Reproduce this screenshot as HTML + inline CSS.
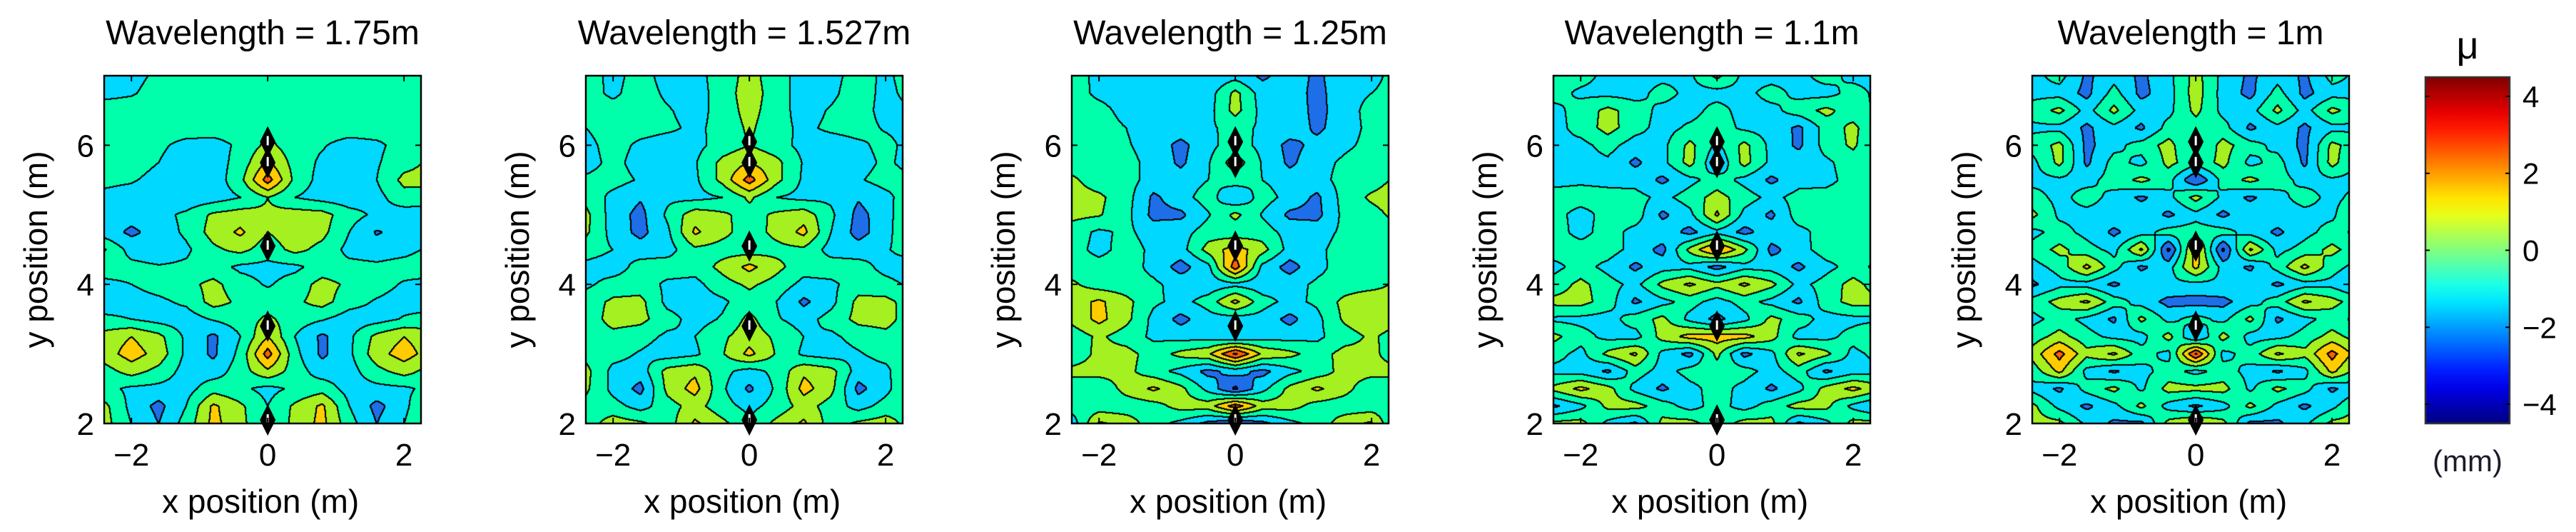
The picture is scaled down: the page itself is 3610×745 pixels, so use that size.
<!DOCTYPE html>
<html><head><meta charset="utf-8">
<style>
html,body{margin:0;padding:0;background:#fff;}
body{width:3610px;height:745px;position:relative;overflow:hidden;font-family:"Liberation Sans",Arial,sans-serif;}
canvas{position:absolute;}
svg{position:absolute;left:0;top:0;}
</style></head>
<body>
<svg id="svg" width="3610" height="745"></svg>
<script>
// ---- data ----
const xCoords=[-2.4,-2,-1.6,-1.2,-0.8,-0.4,0,0.4,0.8,1.2,1.6,2,2.4];
const yCoords=[7,6.75,6.5,6.25,6,5.75,5.5,5.25,5,4.75,4.5,4.25,4,3.75,3.5,3.25,3,2.75,2.5,2.25,2];
const titles=["Wavelength = 1.75m","Wavelength = 1.527m","Wavelength = 1.25m","Wavelength = 1.1m","Wavelength = 1m"];
const xTicks=[-2,0,2];
const yTicks=[2,4,6];
const cbTicks=[4,2,0,-2,-4];
const sourceY=[6.05,5.75,4.55,3.4,2.05];
const levels=[-4,-3,-2,-1,0,1,2,3,4];
const gridP1=[
[-1.2,-1.3,-0.8,-0.5,-0.5,-0.5,-0.5,-0.5,-0.5,-0.5,-0.5,-0.5,-0.5],
[-1.3,-1.1,-0.6,-0.5,-0.5,-0.5,-0.5,-0.5,-0.5,-0.5,-0.5,-0.5,-0.5],
[-0.5,-0.5,-0.5,-0.5,-0.5,-0.5,-0.5,-0.5,-0.5,-0.5,-0.5,-0.5,-0.5],
[-0.5,-0.5,-0.5,-0.5,-0.5,-0.5,-0.3,-0.5,-0.5,-0.5,-0.5,-0.5,-0.5],
[-0.5,-0.5,-0.8,-1.3,-1.4,-0.8,0.3,-0.6,-0.9,-1.4,-1.2,-0.6,-0.5],
[-0.5,-0.6,-1.0,-1.6,-1.5,-0.6,1.2,-0.4,-1.2,-1.6,-1.1,-0.4,0.2],
[-0.8,-0.9,-1.3,-1.7,-1.6,-0.3,2.5,-0.3,-1.4,-1.7,-1.0,0.3,0.4],
[-1.2,-1.4,-1.5,-1.7,-1.5,-1.0,0.0,-1.0,-1.4,-1.6,-1.3,-0.4,-0.6],
[-1.4,-1.6,-1.3,-0.8,0.2,0.5,0.2,0.5,0.4,-0.6,-1.2,-1.5,-1.4],
[-1.5,-2.2,-1.6,-0.8,0.4,1.2,0.0,0.6,0.3,-1.0,-2.1,-1.6,-1.3],
[0.1,-1.4,-1.7,-1.2,-0.2,0.3,-0.5,0.3,-0.3,-1.3,-1.5,-1.3,-0.8],
[-0.6,-0.7,-0.9,-0.8,-0.6,-1.2,-1.3,-1.2,-0.6,-0.7,-0.8,-0.6,-0.5],
[-1.2,-1.0,-0.6,-0.3,0.3,-0.6,-1.1,-0.6,0.4,-0.2,-0.6,-1.1,-1.3],
[-1.5,-1.4,-1.2,-0.8,0.4,-0.2,-0.5,-0.2,0.4,-0.6,-1.1,-1.4,-1.5],
[-0.8,-1.0,-1.4,-1.5,-0.9,-0.5,0.2,-0.5,-0.9,-1.5,-1.4,-0.9,-0.6],
[0.4,1.0,0.3,-1.2,-2.2,-1.0,1.0,-1.0,-2.2,-1.2,0.3,1.0,0.4],
[0.5,1.5,0.6,-1.2,-2.2,-0.7,2.5,-0.7,-2.2,-1.2,0.6,1.5,0.5],
[-0.4,0.4,-0.3,-1.4,-1.5,-0.5,0.8,-0.5,-1.5,-1.4,-0.3,0.4,-0.4],
[-0.7,-1.2,-1.3,-1.4,-0.4,-0.8,-1.3,-0.8,-0.4,-1.4,-1.3,-1.2,-0.7],
[0.3,-1.3,-2.3,-1.0,1.2,0.2,-1.0,0.2,1.2,-1.0,-2.3,-1.3,0.3],
[0.4,-1.0,-2.0,-0.6,1.3,0.3,-1.0,0.3,1.3,-0.6,-2.0,-1.0,0.4]];
const gridP2=[
[-0.5,-1.3,-0.6,-1.4,-1.3,-0.6,0.4,-0.6,-1.4,-1.3,-0.6,-1.2,-0.5],
[-0.6,-1.2,-0.5,-1.2,-1.5,-0.5,0.5,-0.5,-1.5,-1.2,-0.5,-1.3,-0.6],
[-0.5,-0.6,-0.5,-0.9,-1.4,-0.6,0.4,-0.6,-1.4,-0.9,-0.5,-1.4,-1.0],
[-1.0,-0.5,-0.6,-0.8,-1.2,-0.7,0.2,-0.7,-1.2,-0.8,-0.6,-1.1,-1.3],
[-1.3,-0.6,-1.2,-1.5,-1.3,-0.6,0.0,-0.6,-1.3,-1.5,-1.2,-0.7,-1.4],
[-1.4,-0.7,-1.4,-1.7,-1.1,0.3,1.0,0.3,-1.1,-1.7,-1.4,-0.8,-1.4],
[-0.8,-0.6,-1.1,-1.4,-1.2,0.3,2.5,0.3,-1.2,-1.4,-1.1,-0.6,-0.8],
[-0.3,-1.3,-1.9,-1.2,-1.3,-1.0,0.2,-1.0,-1.3,-1.2,-1.9,-1.3,-0.3],
[0.3,-1.5,-2.3,-0.8,0.6,0.2,-0.4,0.2,0.6,-0.8,-2.3,-1.5,0.3],
[0.2,-1.4,-2.3,-1.2,1.2,0.3,-0.5,0.3,1.3,-1.0,-2.4,-1.4,0.2],
[-0.5,-1.0,-1.5,-1.4,-0.2,-0.4,-0.5,-0.3,-0.2,-1.4,-1.5,-1.1,-0.5],
[-1.3,-1.5,-0.6,-0.5,-0.6,0.3,1.3,0.3,-0.6,-0.5,-0.6,-1.3,-1.5],
[-1.2,-0.6,-0.5,-1.2,-1.3,-0.4,0.2,-0.4,-1.3,-1.2,-0.5,-0.7,-1.2],
[-0.5,0.2,0.3,-1.3,-1.5,-1.2,-0.4,-1.0,-2.2,-1.3,0.3,0.3,-0.5],
[-0.6,0.4,0.3,-0.6,-1.4,-0.9,0.3,-0.9,-1.4,-0.6,0.3,0.4,-0.6],
[-0.5,-0.3,-0.6,-1.2,-1.0,-0.2,0.6,-0.2,-1.0,-1.2,-0.6,-0.3,-0.5],
[-0.3,-0.6,-1.1,-1.5,-1.2,-0.1,1.3,-0.1,-1.2,-1.5,-1.1,-0.6,-0.3],
[0.3,-1.3,-1.5,0.4,0.8,-0.7,-1.4,-0.7,0.8,0.4,-1.5,-1.3,0.3],
[0.2,-1.3,-2.3,0.3,1.4,-0.8,-2.2,-0.8,1.4,0.3,-2.3,-1.3,0.2],
[-0.3,-0.6,-1.4,-0.4,0.4,-0.6,-1.3,-0.6,0.4,-0.4,-1.4,-0.6,-0.3],
[-0.5,0.5,0.2,-0.5,1.2,0.3,-0.8,0.3,1.2,-0.5,0.2,0.5,-0.5]];
const gridP3=[
[-0.5,-1.3,-1.4,-1.5,-1.5,-1.8,-1.4,-2.2,-1.5,-2.2,-1.4,-1.3,-0.6],
[-0.6,-1.2,-1.4,-1.5,-1.5,-1.5,0.3,-1.5,-1.5,-2.3,-1.4,-1.0,-0.6],
[-0.6,-0.7,-1.3,-1.5,-1.4,-1.4,0.4,-1.4,-1.4,-2.3,-1.5,-0.6,-0.8],
[-0.6,-0.6,-1.0,-1.5,-1.4,-1.1,-0.8,-1.1,-1.4,-2.2,-1.5,-0.7,-0.6],
[-0.6,-0.6,-0.9,-1.4,-2.3,-1.3,-0.5,-1.3,-2.3,-1.7,-1.2,-0.7,-0.5],
[-0.5,-0.4,-0.7,-1.3,-2.2,-1.1,0.6,-1.1,-2.2,-1.4,-0.8,-0.5,-0.4],
[0.2,-0.5,-0.6,-1.4,-1.5,-1.0,-0.5,-1.0,-1.5,-1.4,-0.6,-0.5,0.3],
[0.4,0.2,-0.6,-2.2,-1.4,-0.5,-2.0,-0.5,-1.4,-2.2,-0.6,0.2,0.6],
[0.3,0.1,-0.7,-2.3,-2.2,-1.1,0.3,-1.1,-2.2,-2.3,-0.7,-0.4,0.4],
[-0.5,-1.2,-0.8,-1.4,-1.4,-0.5,-0.7,-0.5,-1.4,-1.4,-0.8,-0.5,-0.4],
[-0.6,-1.3,-0.6,-1.2,-1.4,0.4,1.5,0.4,-1.4,-1.2,-0.6,-0.6,-0.5],
[-0.5,-0.6,-0.5,-1.3,-2.4,-1.3,2.6,-1.3,-2.4,-1.3,-0.5,-1.0,-0.5],
[0.2,-0.5,-0.6,-0.8,-1.4,-1.6,-1.3,-1.6,-1.4,-0.8,-0.6,-0.5,0.3],
[0.5,1.2,0.3,-0.8,-1.3,-0.6,1.3,-0.6,-1.3,-0.8,0.3,1.0,0.5],
[0.3,1.3,0.3,-1.3,-2.3,-1.4,-1.5,-1.4,-2.3,-1.3,0.2,0.9,0.3],
[-0.6,0.2,-0.5,-1.2,-1.4,-1.4,-2.0,-1.4,-1.4,-1.2,-0.5,0.2,-0.6],
[-0.7,0.3,0.4,-0.5,0.3,0.8,3.2,0.8,0.3,-0.5,0.4,0.3,-0.7],
[0.3,0.4,0.3,-0.6,-1.3,-2.3,-1.6,-2.3,-1.3,-0.6,0.4,0.4,0.3],
[-0.6,-0.8,0.4,1.2,0.3,-1.3,-3.2,-1.3,0.3,1.2,0.4,-0.8,-0.6],
[-0.5,-0.6,-0.6,-0.4,0.4,0.5,2.6,0.5,0.4,-0.4,-0.6,-0.6,-0.5],
[-1.6,1.2,0.6,-0.6,-1.3,-2.3,-3.0,-2.3,-1.3,-0.6,0.6,1.2,-1.6]];
const gridP4=[
[-0.5,-0.6,-1.3,-1.4,-1.3,-1.2,0.3,-1.3,-1.4,-1.3,-0.6,-1.3,-1.3],
[-0.6,-1.2,-1.3,-1.4,-0.6,-1.3,-1.4,-1.3,-0.6,-1.3,-1.4,-0.6,-1.3],
[-1.3,-0.6,0.3,-0.5,-1.3,-1.4,-0.6,-1.4,-1.3,-0.5,0.3,-0.6,-1.2],
[-1.4,-0.6,0.4,-0.6,-1.4,-0.8,-0.5,-1.2,-1.4,-2.2,-0.6,0.3,-1.2],
[-1.2,-1.3,-0.6,-1.5,-1.3,0.3,-1.2,0.3,-1.3,-2.2,-0.6,0.2,-1.3],
[-1.3,-1.4,-1.2,-2.2,-1.3,0.4,-2.0,0.4,-1.3,-1.4,-1.2,-0.5,-1.3],
[-1.3,-1.2,-1.3,-1.4,-2.2,-1.3,-0.5,-1.3,-2.2,-1.4,-1.3,-0.6,-1.2],
[-0.6,-0.5,-0.6,-0.6,-1.3,-0.5,0.4,-0.5,-1.3,-0.6,-0.6,-0.5,-0.6],
[-0.6,-1.4,-0.6,-0.5,-2.2,-1.3,1.2,-1.3,-2.2,-0.5,-0.6,-0.6,-0.6],
[-0.6,-1.3,-0.6,-1.3,-1.4,-2.3,-1.3,-2.3,-1.4,-1.3,-0.6,-0.6,-0.6],
[-0.5,-0.6,-0.5,-1.4,-2.3,0.3,2.4,0.3,-2.3,-1.4,-0.5,-0.6,-0.5],
[-1.3,-0.6,-1.3,-2.2,-1.4,-1.3,-2.4,-1.3,-1.4,-2.2,-1.3,-0.6,-1.3],
[-0.6,0.3,-0.6,-1.3,0.3,1.2,0.3,1.2,0.3,-1.3,-0.6,0.4,-0.6],
[0.3,0.4,-0.5,-2.2,-1.3,-0.6,-1.4,-0.6,-1.3,-2.2,-0.5,0.4,0.3],
[-1.2,-1.3,-1.4,-0.5,0.3,-1.3,-2.3,-1.3,0.3,-0.5,-1.4,-1.3,-1.2],
[0.3,-0.6,-1.3,-1.4,0.4,1.4,1.5,1.4,0.4,-1.4,-1.3,-0.6,0.3],
[-0.6,-1.3,0.3,1.2,-1.3,-2.3,0.3,-2.3,-1.3,1.2,0.3,-1.3,-0.6],
[-1.3,-1.4,-2.2,-0.5,-1.4,-0.6,-0.5,-0.6,-1.4,-0.5,-2.2,-1.4,-1.3],
[0.3,1.3,0.4,-1.3,-2.2,-1.3,-0.6,-1.3,-2.2,-1.3,0.4,1.3,0.3],
[-2.2,-1.3,0.3,0.4,-0.5,-1.4,-0.6,-1.4,-0.5,0.4,0.3,-1.3,-2.2],
[0.3,0.4,-1.3,-2.2,0.3,0.4,-0.6,0.4,0.3,-2.2,-1.3,0.4,0.3]];
const gridP5=[
[-1.3,-0.6,-2.2,-1.4,-2.2,-1.3,0.4,-1.3,-2.2,-1.4,-2.2,-0.6,-1.3],
[-1.3,-1.4,-2.3,-0.6,-2.3,-1.4,0.5,-1.4,-2.3,-0.6,-2.3,-1.4,-1.3],
[-0.6,0.3,-1.4,0.3,-1.4,-1.3,0.3,-1.3,-1.4,0.3,-1.4,0.3,-0.6],
[-1.2,-1.3,-2.2,-1.3,-2.2,-0.6,-0.5,-0.6,-2.2,-1.3,-2.2,-1.3,-1.2],
[-0.6,0.3,-2.3,-1.3,-0.6,0.4,-1.3,0.4,-0.6,-1.3,-2.3,0.3,-0.6],
[-1.3,0.3,-2.2,-0.6,-1.3,0.3,-0.6,0.3,-1.3,-0.6,-2.2,0.4,-1.3],
[-1.3,-1.2,-1.3,-0.6,0.3,-0.6,-3.0,-0.6,0.3,-0.6,-1.3,-1.2,-1.3],
[-0.6,-1.3,-0.6,-1.3,-2.2,-1.3,0.4,-1.3,-2.2,-1.3,-0.6,-1.3,-0.6],
[0.3,-1.2,-1.3,-1.4,-1.3,-2.2,-1.3,-2.2,-1.3,-1.4,-1.3,-1.2,0.3],
[-1.3,-0.6,-1.3,-2.2,-1.4,-0.6,-0.5,-0.6,-1.4,-2.2,-1.3,-0.6,-1.3],
[-0.6,0.3,-0.6,-1.3,1.2,-3.2,1.6,-3.2,1.2,-1.3,-0.6,0.3,-0.6],
[-1.4,-0.6,1.3,-0.6,-2.2,-1.4,1.3,-1.4,-2.2,-0.6,1.3,-0.6,-1.4],
[-2.2,-1.3,-1.4,-2.2,-1.3,-1.2,-1.3,-1.2,-1.3,-2.2,-1.4,-1.3,-2.2],
[-0.6,0.4,1.2,-0.5,-1.4,-2.3,-2.4,-2.3,-1.4,-0.5,1.2,0.4,-0.6],
[-1.3,-0.6,-1.3,-2.2,0.3,-1.3,-0.6,-1.3,0.3,-2.2,-1.3,-0.6,-1.3],
[-0.5,0.4,-0.6,-1.3,-1.4,0.4,-2.2,0.4,-1.4,-1.3,-0.6,0.4,-0.5],
[0.4,2.4,0.3,1.2,-0.6,-1.3,3.2,-1.3,-0.6,1.2,0.3,2.4,0.4],
[-0.6,1.3,-1.3,-2.2,-1.3,-0.6,-1.3,-0.6,-1.3,-2.2,-1.3,1.3,-0.6],
[-1.3,-2.2,-0.6,0.3,-1.2,0.4,0.3,0.4,-1.2,0.3,-0.6,-2.2,-1.3],
[0.3,-1.3,-2.2,-1.3,0.3,-1.4,-2.2,-1.4,0.3,-1.3,-2.2,-1.3,0.3],
[0.4,0.3,-1.2,-2.2,-2.3,0.4,1.3,0.4,-2.3,-2.2,-1.2,0.3,0.4]];
const grids=[gridP1,gridP2,gridP3,gridP4,gridP5];

// ---- layout ----
const panelLeft=[146,821,1502,2177,2848];
const PW=444,PT=106,PH=487;
const XMIN=-2.4,XMAX=2.25,YMIN=2,YMAX=7;
const CBL=3399,CBR=3517,CBT=108,CBB=593,CBMIN=-4.5,CBMAX=4.5;
const bandColors=["#00009a","#0000dd","#1e6ee8","#00d8ff","#00ffaa","#a4f020","#ffcc00","#ff6000","#e81000","#900000"];

function sx(p,x){return panelLeft[p]+(x-XMIN)/(XMAX-XMIN)*PW;}
function sy(y){return PT+(YMAX-y)/(YMAX-YMIN)*PH;}
function cby(v){return CBT+(CBMAX-v)/(CBMAX-CBMIN)*(CBB-CBT);}

function sample(g,x,y){
  let i=0;while(i<xCoords.length-2&&x>xCoords[i+1])i++;
  let j=0;while(j<yCoords.length-2&&y<yCoords[j+1])j++;
  const tx=Math.min(1,Math.max(0,(x-xCoords[i])/(xCoords[i+1]-xCoords[i])));
  const ty=Math.min(1,Math.max(0,(y-yCoords[j])/(yCoords[j+1]-yCoords[j])));
  const a=g[j][i],b=g[j][i+1],c=g[j+1][i],d=g[j+1][i+1];
  return a*(1-tx)*(1-ty)+b*tx*(1-ty)+c*(1-tx)*ty+d*tx*ty;
}
function band(v){let k=0;while(k<levels.length&&v>=levels[k])k++;return k;}
function hex(h){return [parseInt(h.slice(1,3),16),parseInt(h.slice(3,5),16),parseInt(h.slice(5,7),16)];}

const NS="http://www.w3.org/2000/svg";
const svg=document.getElementById('svg');
function el(tag,attrs,parent){const e=document.createElementNS(NS,tag);for(const k in attrs)e.setAttribute(k,attrs[k]);(parent||svg).appendChild(e);return e;}
function PB(){return PT+PH;}

grids.forEach((g,p)=>{
  const cv=document.createElement('canvas');
  cv.width=PW;cv.height=PH;
  cv.style.left=panelLeft[p]+'px';cv.style.top=PT+'px';
  
  
  document.body.insertBefore(cv,svg);
  const ctx=cv.getContext('2d');
  const img=ctx.createImageData(PW,PH);
  const B=new Int8Array(PW*PH);
  for(let py=0;py<PH;py++){const y=YMAX-(py+0.5)/PH*(YMAX-YMIN);
    for(let px=0;px<PW;px++){const x=XMIN+(px+0.5)/PW*(XMAX-XMIN);B[py*PW+px]=band(sample(g,x,y));}}
  const cols=bandColors.map(hex);
  for(let py=0;py<PH;py++)for(let px=0;px<PW;px++){
    const k=B[py*PW+px];let edge=false;
    for(let dy=-1;dy<=1&&!edge;dy++)for(let dx=-1;dx<=1;dx++){
      const qx=px+dx,qy=py+dy;
      if(qx<0||qy<0||qx>=PW||qy>=PH)continue;
      if(B[qy*PW+qx]<k){edge=true;break;}
      if((dx===0||dy===0)&&B[qy*PW+qx]!==k){edge=true;break;}
    }
    const o=(py*PW+px)*4;const c=edge?[0,0,0]:cols[k];
    img.data[o]=c[0];img.data[o+1]=c[1];img.data[o+2]=c[2];img.data[o+3]=255;
  }
  ctx.putImageData(img,0,0);

  const gp=el('g',{});
  
  
  sourceY.forEach((ys)=>{
    const cx=sx(p,0),cy=sy(ys);
    const d=el('path',{d:`M${cx} ${cy-22} L${cx+11} ${cy} L${cx} ${cy+22} L${cx-11} ${cy} Z`,fill:'#000'},gp);
    
    
    el('rect',{x:cx-1.5,y:cy-8,width:3,height:13,fill:'#fff'},gp);
  });
  const fr=el('rect',{x:panelLeft[p],y:PT,width:PW,height:PH,fill:'none',stroke:'#000','stroke-width':2.5},gp);
  
  
  xTicks.forEach(t=>{
    const X=sx(p,t);
    el('line',{x1:X,y1:PB(),x2:X,y2:PB()-8,stroke:'#000','stroke-width':2},gp);
    el('line',{x1:X,y1:PT,x2:X,y2:PT+8,stroke:'#000','stroke-width':2},gp);
    const tx=el('text',{x:X,y:652,'font-size':44,'text-anchor':'middle',fill:'#000'},gp);
    tx.textContent=t<0?'\u2212'+Math.abs(t):String(t);
    
    
  });
  yTicks.forEach(t=>{
    const Y=sy(t);
    el('line',{x1:panelLeft[p],y1:Y,x2:panelLeft[p]+8,y2:Y,stroke:'#000','stroke-width':2},gp);
    el('line',{x1:panelLeft[p]+PW,y1:Y,x2:panelLeft[p]+PW-8,y2:Y,stroke:'#000','stroke-width':2},gp);
    const ty=el('text',{x:panelLeft[p]-14,y:Y+16,'font-size':44,'text-anchor':'end',fill:'#000'},gp);
    ty.textContent=String(t);
    
    
  });
  const tt=el('text',{x:panelLeft[p]+PW/2,y:62,'font-size':48,'text-anchor':'middle',fill:'#000'},gp);
  tt.textContent=titles[p];
  
  
  const xl=el('text',{x:sx(p,0)-10,y:718,'font-size':46,'text-anchor':'middle',fill:'#000'},gp);
  xl.textContent='x position (m)';
  
  
  const yx=panelLeft[p]-80,yy=PT+PH/2;
  const yl=el('text',{x:yx,y:yy,'font-size':46,'text-anchor':'middle',fill:'#000',transform:`rotate(-90 ${yx} ${yy})`},gp);
  yl.textContent='y position (m)';
  
  
});

// colorbar
const defs=el('defs',{});
const lg=el('linearGradient',{id:'jet',x1:0,y1:1,x2:0,y2:0},defs);
for(let i=0;i<=20;i++){const t=i/20;
  const r=Math.max(0,Math.min(1,1.5-Math.abs(4*t-3))),gg=Math.max(0,Math.min(1,1.5-Math.abs(4*t-2))),b=Math.max(0,Math.min(1,1.5-Math.abs(4*t-1)));
  el('stop',{offset:t,'stop-color':`rgb(${Math.round(r*255)},${Math.round(gg*255)},${Math.round(b*255)})`},lg);}
const cb=el('g',{});


el('rect',{x:CBL,y:CBT,width:CBR-CBL,height:CBB-CBT,fill:'url(#jet)',stroke:'#333','stroke-width':2.5},cb);
cbTicks.forEach(t=>{const Y=cby(t);
  el('line',{x1:CBL,y1:Y,x2:CBL+6,y2:Y,stroke:'#000','stroke-width':2},cb);
  el('line',{x1:CBR,y1:Y,x2:CBR-6,y2:Y,stroke:'#000','stroke-width':2},cb);
  const tl=el('text',{x:3535,y:Y+15,'font-size':42,fill:'#000'},cb);
  tl.textContent=t<0?'\u2212'+Math.abs(t):String(t);
  
  
});
const mu=el('text',{x:3458,y:82,'font-size':54,'text-anchor':'middle',fill:'#000'},cb);
mu.textContent='\u03bc';


const mm=el('text',{x:3458,y:660,'font-size':42,'text-anchor':'middle',fill:'#1a1a2a'},cb);
mm.textContent='(mm)';


</script>
</body></html>
